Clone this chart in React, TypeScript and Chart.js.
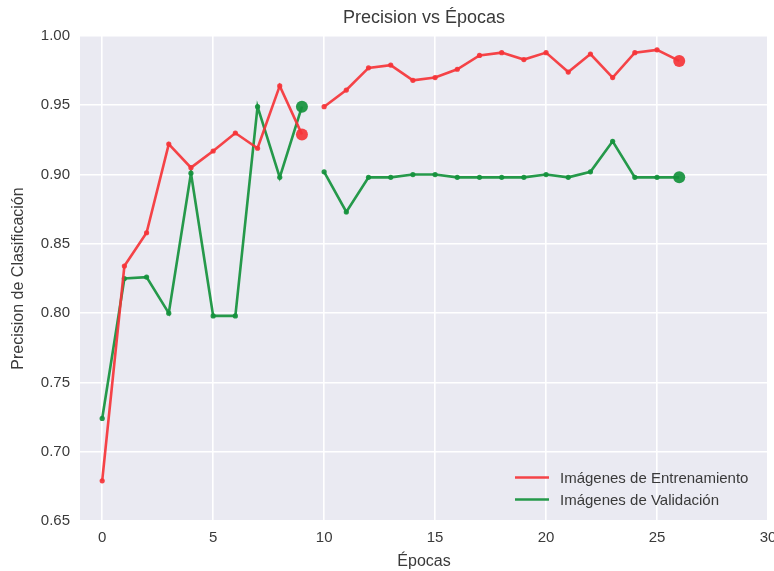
import React, { useEffect, useRef } from "react";
import { Chart, registerables } from "chart.js";

Chart.register(...registerables);

const epochsA = [0, 1, 2, 3, 4, 5, 6, 7, 8, 9];
const epochsB = [10, 11, 12, 13, 14, 15, 16, 17, 18, 19, 20, 21, 22, 23, 24, 25, 26];

const trainA = [0.679, 0.834, 0.858, 0.922, 0.905, 0.917, 0.930, 0.919, 0.964, 0.929];
const trainB = [0.949, 0.961, 0.977, 0.979, 0.968, 0.970, 0.976, 0.986, 0.988, 0.983, 0.988, 0.974, 0.987, 0.970, 0.988, 0.990, 0.982];

const valA = [0.724, 0.825, 0.826, 0.800, 0.901, 0.798, 0.798, 0.949, 0.898, 0.949];
const valB = [0.902, 0.873, 0.898, 0.898, 0.900, 0.900, 0.898, 0.898, 0.898, 0.898, 0.900, 0.898, 0.902, 0.924, 0.898, 0.898, 0.898];

const xTicks = [0, 5, 10, 15, 20, 25, 30];
const yTicks = [0.65, 0.7, 0.75, 0.8, 0.85, 0.9, 0.95, 1.0];

const seriesLabels = ["Imágenes de Entrenamiento", "Imágenes de Validación"];
const titleText = "Precision vs Épocas";
const xTitle = "Épocas";
const yTitle = "Precision de Clasificación";

const RED = "rgba(245, 52, 56, 0.92)";
const GREEN = "rgba(20, 145, 60, 0.92)";
const FONT = "'Liberation Sans', Arial, sans-serif";
const TEXT = "#3a3a3a";

function buildPoints(xa: number[], ya: number[], xb: number[], yb: number[]) {
  const pts: { x: number; y: number | null }[] = [];
  xa.forEach((x, i) => pts.push({ x, y: ya[i] }));
  pts.push({ x: (xa[xa.length - 1] + xb[0]) / 2, y: null });
  xb.forEach((x, i) => pts.push({ x, y: yb[i] }));
  return pts;
}

export default function App() {
  const ref = useRef<HTMLCanvasElement | null>(null);

  useEffect(() => {
    if (!ref.current) return;
    const lastA = epochsA.length - 1;
    const lastIdx = epochsA.length + epochsB.length;
    const radius = (ctx: any) => (ctx.dataIndex === lastA || ctx.dataIndex === lastIdx ? 6 : 2.6);

    const bgPlugin = {
      id: "bg",
      beforeDraw(chart: any) {
        const { ctx, chartArea } = chart;
        ctx.save();
        ctx.fillStyle = "#EAEAF2";
        ctx.fillRect(chartArea.left, chartArea.top, chartArea.right - chartArea.left, chartArea.bottom - chartArea.top);
        ctx.restore();
      },
    };

    const decoPlugin = {
      id: "deco",
      afterDraw(chart: any) {
        const { ctx, chartArea } = chart;
        ctx.save();
        ctx.fillStyle = TEXT;
        ctx.font = `18px ${FONT}`;
        ctx.textAlign = "center";
        ctx.textBaseline = "middle";
        ctx.fillText(titleText, (chartArea.left + chartArea.right) / 2, 18);

        ctx.font = `15px ${FONT}`;
        ctx.textAlign = "left";
        const ys = [477.5, 499.5];
        chart.data.datasets.forEach((ds: any, i: number) => {
          ctx.strokeStyle = ds.borderColor;
          ctx.lineWidth = 2.6;
          ctx.beginPath();
          ctx.moveTo(515, ys[i]);
          ctx.lineTo(549, ys[i]);
          ctx.stroke();
          ctx.fillStyle = TEXT;
          ctx.fillText(ds.label, 560, ys[i] + 1);
        });
        ctx.restore();
      },
    };

    const chart = new Chart(ref.current, {
      type: "line",
      data: {
        datasets: [
          {
            label: seriesLabels[0],
            data: buildPoints(epochsA, trainA, epochsB, trainB) as any,
            borderColor: RED,
            backgroundColor: RED,
            borderWidth: 2.6,
            pointRadius: radius,
            pointHoverRadius: radius,
            pointBorderWidth: 0,
            spanGaps: false,
            tension: 0,
          },
          {
            label: seriesLabels[1],
            data: buildPoints(epochsA, valA, epochsB, valB) as any,
            borderColor: GREEN,
            backgroundColor: GREEN,
            borderWidth: 2.6,
            pointRadius: radius,
            pointHoverRadius: radius,
            pointBorderWidth: 0,
            spanGaps: false,
            tension: 0,
          },
        ],
      },
      options: {
        animation: false,
        responsive: false,
        maintainAspectRatio: false,
        layout: { padding: { top: 36, right: 6, left: 0, bottom: 0 } },
        plugins: {
          legend: { display: false },
          title: { display: false },
          tooltip: { enabled: false },
        },
        scales: {
          x: {
            type: "linear",
            min: -1,
            max: 30,
            afterBuildTicks: (scale: any) => {
              scale.ticks = xTicks.map((v) => ({ value: v }));
            },
            afterFit: (scale: any) => {
              scale.height = 50;
              scale.paddingLeft = 0;
              scale.paddingRight = 0;
            },
            grid: { color: "#FFFFFF", lineWidth: 1.6, drawTicks: false },
            border: { display: false },
            ticks: {
              color: TEXT,
              font: { family: FONT, size: 15 },
              padding: 8,
              maxRotation: 0,
              callback: (v: any) => String(v),
            },
            title: {
              display: true,
              text: xTitle,
              color: TEXT,
              font: { family: FONT, size: 16 },
              padding: { top: 0, bottom: 0 },
            },
          },
          y: {
            type: "linear",
            min: 0.65,
            max: 1.0,
            afterBuildTicks: (scale: any) => {
              scale.ticks = yTicks.map((v) => ({ value: v }));
            },
            afterFit: (scale: any) => {
              scale.width = 80;
              scale.paddingTop = 0;
              scale.paddingBottom = 0;
            },
            grid: { color: "#FFFFFF", lineWidth: 1.6, drawTicks: false },
            border: { display: false },
            ticks: {
              color: TEXT,
              font: { family: FONT, size: 15 },
              padding: 10,
              callback: (v: any) => Number(v).toFixed(2),
            },
            title: {
              display: true,
              text: yTitle,
              color: TEXT,
              font: { family: FONT, size: 16 },
              padding: { top: 9, bottom: 0 },
            },
          },
        },
      },
      plugins: [bgPlugin, decoPlugin],
    });

    return () => chart.destroy();
  }, []);

  return (
    <div style={{ position: "absolute", left: 0, top: 0, width: 774, height: 571, background: "#FFFFFF" }}>
      <canvas ref={ref} width={774} height={571} style={{ width: 774, height: 571, display: "block" }} />
    </div>
  );
}
